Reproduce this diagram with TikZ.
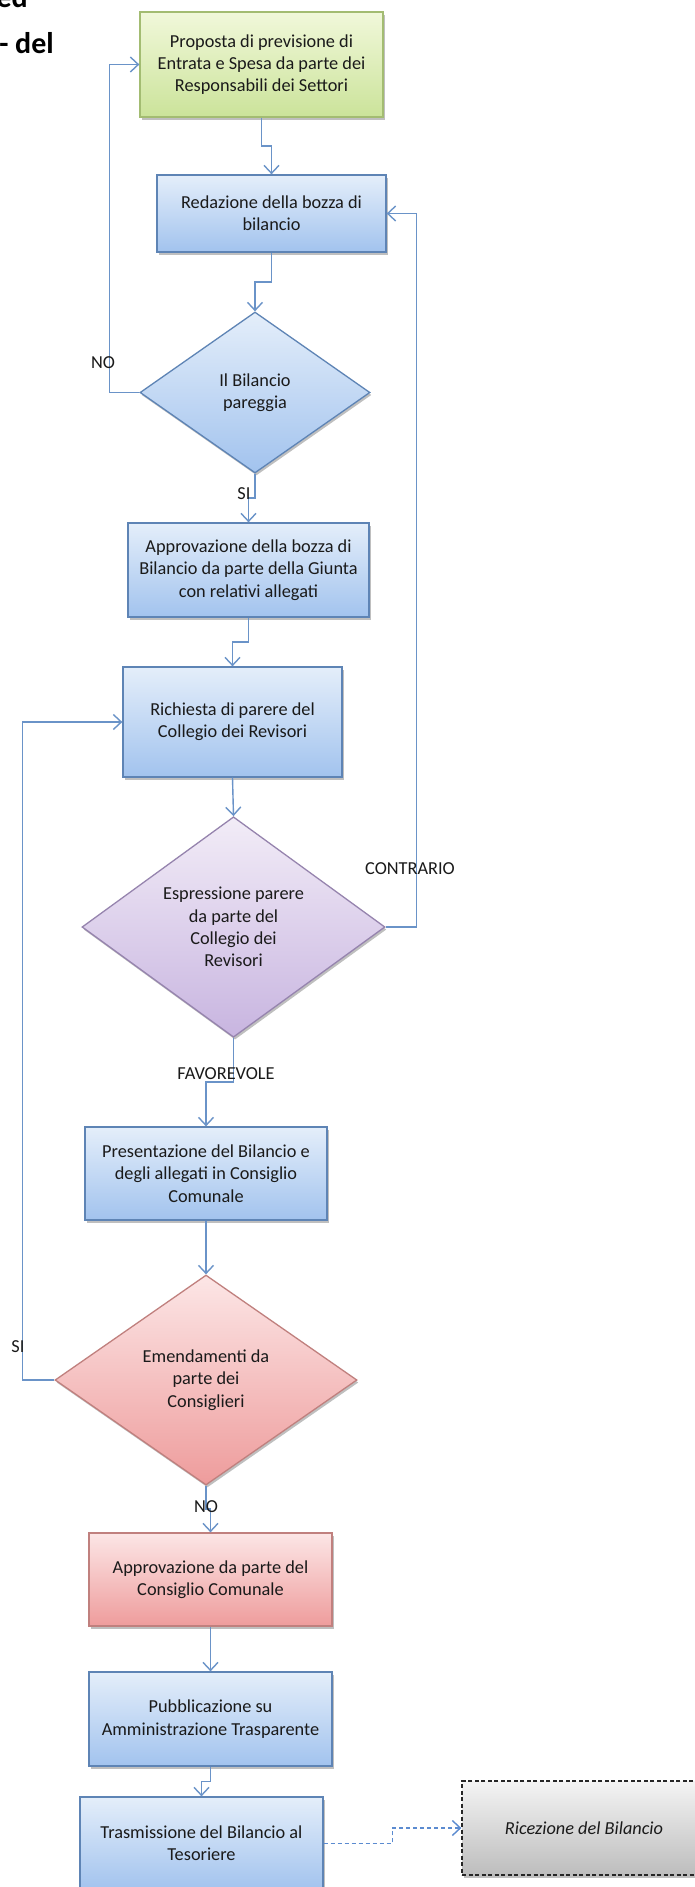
\documentclass[tikz,border=0pt]{standalone}
\usepackage{fontspec}
\setmainfont{Carlito}
\usetikzlibrary{arrows.meta,shapes.geometric,shadows,calc}

\definecolor{lineblue}{HTML}{6A93C8}
\definecolor{dashblue}{HTML}{5B8BD0}
\definecolor{txt}{HTML}{1A1A1A}
\definecolor{greentop}{HTML}{F1F8DA}
\definecolor{greenbot}{HTML}{CBE39A}
\definecolor{greenborder}{HTML}{A3BC72}
\definecolor{bluetop}{HTML}{E4EEFA}
\definecolor{bluebot}{HTML}{A2C3EE}
\definecolor{blueborder}{HTML}{5E84B5}
\definecolor{purpletop}{HTML}{F2ECF7}
\definecolor{purplebot}{HTML}{C8B5E0}
\definecolor{purpleborder}{HTML}{9684AE}
\definecolor{redtop}{HTML}{FCE6E6}
\definecolor{redbot}{HTML}{EE9C9C}
\definecolor{redborder}{HTML}{C0807E}
\definecolor{greytop}{HTML}{F4F4F4}
\definecolor{greybot}{HTML}{BDBDBD}

\begin{document}
\begin{tikzpicture}[x=1pt,y=-1pt,
  every node/.style={font=\fontsize{18.3}{22.3}\selectfont, text=txt},
  base/.style={inner sep=0pt, align=center, line width=1.3pt,
    drop shadow={shadow xshift=1.5pt, shadow yshift=-2.5pt, opacity=0.25, fill=black}},
  greenbox/.style={base, rectangle, draw=greenborder, top color=greentop, bottom color=greenbot},
  bluebox/.style={base, rectangle, draw=blueborder, top color=bluetop, bottom color=bluebot},
  redbox/.style={base, rectangle, draw=redborder, top color=redtop, bottom color=redbot},
  greybox/.style={base, rectangle, draw=black!85, dash pattern=on 4pt off 2.5pt, top color=greytop, bottom color=greybot},
  bluedia/.style={base, diamond, draw=blueborder, top color=bluetop, bottom color=bluebot},
  purpledia/.style={base, diamond, draw=purpleborder, top color=purpletop, bottom color=purplebot},
  reddia/.style={base, diamond, draw=redborder, top color=redtop, bottom color=redbot},
  conn/.style={draw=lineblue, line width=1.4pt, -{Straight Barb[length=8pt,width=15pt,line width=1.4pt]}},
  dconn/.style={draw=dashblue, line width=1.4pt, dash pattern=on 4pt off 3pt, -{Straight Barb[length=8pt,width=15pt,line width=1.4pt]}},
  lbl/.style={inner sep=0pt},
  titletext/.style={inner sep=0pt, font=\bfseries\fontsize{30}{36}\selectfont, text=black}
]
\useasboundingbox (0,0) rectangle (695,1887);
\clip (0,0) rectangle (695,1887);
\fill[white] (0,0) rectangle (695,1887);

% title fragments
\node[titletext, anchor=base east] (t1) at (28,8) {ed};
\node[titletext, anchor=base east] (t2) at (54,53) {- del};

% nodes
\node[greenbox, minimum width=243pt, minimum height=105pt] (B1) at (261.5,64.5) {Proposta di previsione di\\Entrata e Spesa da parte dei\\Responsabili dei Settori};
\node[bluebox, minimum width=229pt, minimum height=77pt] (B2) at (271.5,213.5) {Redazione della bozza di\\bilancio};
\node[bluedia, minimum width=230pt, minimum height=161pt] (D1) at (255,392.5) {Il Bilancio\\pareggia};
\node[bluebox, minimum width=241pt, minimum height=94pt] (B3) at (248.5,570) {Approvazione della bozza di\\Bilancio da parte della Giunta\\con relativi allegati};
\node[bluebox, minimum width=219pt, minimum height=110pt] (B4) at (232.5,722) {Richiesta di parere del\\Collegio dei Revisori};
\node[purpledia, minimum width=303pt, minimum height=211pt] (D2) at (233.5,927) {Espressione parere\\da parte del\\Collegio dei\\Revisori};
\node[bluebox, minimum width=242pt, minimum height=93pt] (B5) at (206,1173.5) {Presentazione del Bilancio e\\degli allegati in Consiglio\\Comunale};
\node[reddia, minimum width=302pt, minimum height=210pt] (D3) at (206,1380) {Emendamenti da\\parte dei\\Consiglieri};
\node[redbox, minimum width=243pt, minimum height=93pt] (B6) at (210.5,1579.5) {Approvazione da parte del\\Consiglio Comunale};
\node[bluebox, minimum width=243pt, minimum height=94pt] (B7) at (210.5,1719) {Pubblicazione su\\Amministrazione Trasparente};
\node[bluebox, minimum width=243pt, minimum height=93pt] (B8) at (201.5,1843.5) {Trasmissione del Bilancio al\\Tesoriere};
\node[greybox, minimum width=244pt, minimum height=94pt] (B9) at (584,1828) {\itshape Ricezione del Bilancio};

% main flow
\draw[conn] (B1.south) -- ($(B1.south)!.5!(B1.south|-B2.north)$) -| (B2.north);
\draw[conn] (B2.south) -- ($(B2.south)!.5!(B2.south|-D1.north)$) -| (D1.north);
\draw[conn] (D1.south) -- ($(D1.south)!.5!(D1.south|-B3.north)$) -| (B3.north);
\draw[conn] (B3.south) -- ($(B3.south)!.5!(B3.south|-B4.north)$) -| (B4.north);
\draw[conn] (B4.south) -- (D2.north);
\draw[conn] (D2.south) -- ($(D2.south)!.5!(D2.south|-B5.north)$) -| (B5.north);
\draw[conn] (B5.south) -- (D3.north);
\draw[conn] (D3.south) -- ($(D3.south)!.5!(D3.south|-B6.north)$) -| (B6.north);
\draw[conn] (B6.south) -- (B7.north);
\draw[conn] (B7.south) -- ($(B7.south)!.5!(B7.south|-B8.north)$) -| (B8.north);

% loops
\draw[conn] (D1.west) -- ++(-30,0) |- (B1.west);
\draw[conn] (D2.east) -- ++(31,0) |- (B2.east);
\draw[conn] (D3.west) -- ++(-32,0) |- (B4.west);

% dashed link
\coordinate (m) at ($(B8.east)!.5!(B9.west)$);
\draw[dconn] (B8.east) -| (m) |- (B9.west);

% labels
\node[lbl] (lno1) at (103,363) {NO};
\node[lbl] (lsi1) at (244,494) {SI};
\node[lbl] (lcon) at (410,869) {CONTRARIO};
\node[lbl] (lfav) at (226,1074) {FAVOREVOLE};
\node[lbl] (lsi2) at (18,1347) {SI};
\node[lbl] (lno2) at (206,1507) {NO};
\end{tikzpicture}
\end{document}
